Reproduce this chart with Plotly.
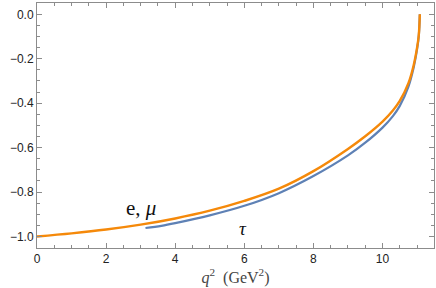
import plotly.graph_objects as go

# e, mu curve
q2_emu = [0, 1, 2, 3, 4, 5, 6, 7, 8, 9, 9.5, 10, 10.3, 10.5, 10.75, 10.9, 11.0, 11.05, 11.08]
y_emu = [-1.000, -0.986, -0.969, -0.947, -0.919, -0.884, -0.840, -0.785, -0.706,
         -0.606, -0.549, -0.483, -0.433, -0.390, -0.310, -0.230, -0.150, -0.092, 0.0]

# tau curve
q2_tau = [3.14, 3.6, 4, 5, 6, 7, 8, 9, 9.5, 10, 10.3, 10.5, 10.75, 10.9, 11.0, 11.05, 11.08]
y_tau = [-0.962, -0.952, -0.940, -0.905, -0.862, -0.805, -0.728, -0.635, -0.578,
         -0.510, -0.458, -0.412, -0.325, -0.240, -0.157, -0.097, 0.0]

x_ticks = [0, 2, 4, 6, 8, 10]
y_ticks = [0.0, -0.2, -0.4, -0.6, -0.8, -1.0]
y_ticklabels = ["0.0", "\u22120.2", "\u22120.4", "\u22120.6", "\u22120.8", "\u22121.0"]

BLUE = "#5E81B5"
ORANGE = "#F5890A"
FRAME = "#8c8c8c"
XR = [0, 11.49]
YR = [-1.052, 0.051]

fig = go.Figure()
fig.add_trace(go.Scatter(x=q2_tau, y=y_tau, mode="lines",
                         line=dict(color=BLUE, width=2.2, shape="spline", smoothing=1.0),
                         showlegend=False, hoverinfo="skip"))
fig.add_trace(go.Scatter(x=q2_emu, y=y_emu, mode="lines",
                         line=dict(color=ORANGE, width=2.4, shape="spline", smoothing=1.0),
                         showlegend=False, hoverinfo="skip"))
# invisible anchor trace so the mirrored frame axes (top/right) get drawn
fig.add_trace(go.Scatter(x=[XR[0]], y=[YR[0]], xaxis="x2", yaxis="y2", mode="markers",
                         marker=dict(opacity=0), showlegend=False, hoverinfo="skip"))

tickfont = dict(family="Liberation Sans, Arial, sans-serif", size=12, color="#222")
axis_common = dict(showgrid=False, zeroline=False, showline=True, linecolor=FRAME,
                   linewidth=1, ticks="inside", ticklen=5, automargin=False,
                   tickcolor=FRAME, tickwidth=1, tickfont=tickfont)

fig.update_layout(
    xaxis=dict(range=XR, tickvals=x_ticks, ticktext=[str(v) for v in x_ticks],
               minor=dict(ticks="inside", dtick=0.5, ticklen=3, tickcolor=FRAME, showgrid=False),
               title=dict(text="<i>q</i><sup>2</sup>  (GeV<sup>2</sup>)",
                          font=dict(family="Liberation Serif, Times New Roman, serif", size=16, color="#444"),
                          standoff=6),
               **axis_common),
    yaxis=dict(range=YR, tickvals=y_ticks, ticktext=y_ticklabels,
               minor=dict(ticks="inside", dtick=0.05, ticklen=3, tickcolor=FRAME, showgrid=False),
               **axis_common),
    xaxis2=dict(range=XR, overlaying="x", anchor="y", side="top", tickvals=x_ticks,
                showticklabels=False,
                minor=dict(ticks="inside", dtick=0.5, ticklen=3, tickcolor=FRAME, showgrid=False),
                **axis_common),
    yaxis2=dict(range=YR, overlaying="y", anchor="x", side="right", tickvals=y_ticks,
                showticklabels=False,
                minor=dict(ticks="inside", dtick=0.05, ticklen=3, tickcolor=FRAME, showgrid=False),
                **axis_common),
)

fig.add_annotation(x=3.0, y=-0.87, text="e, <i>\u03bc</i>", showarrow=False,
                   font=dict(family="Liberation Serif, Times New Roman, serif", size=21, color="#111"))
fig.add_annotation(x=5.97, y=-0.965, text="<i>\u03c4</i>", showarrow=False,
                   font=dict(family="Liberation Serif, Times New Roman, serif", size=19, color="#111"))

fig.update_layout(width=436, height=288, margin=dict(l=37, r=2, t=3, b=40),
                  plot_bgcolor="white", paper_bgcolor="white")

fig.write_html("out.html", config={"displayModeBar": False},
               post_script="document.body.style.margin='0';")
